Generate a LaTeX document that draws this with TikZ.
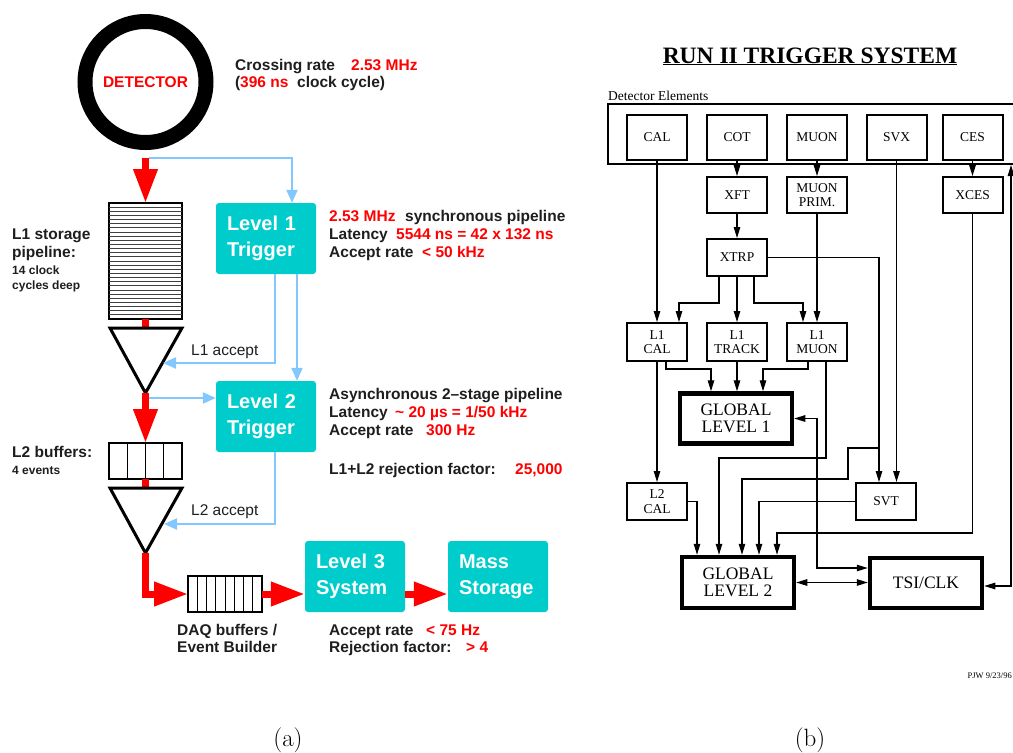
\documentclass[tikz,border=0pt]{standalone}
\usepackage{fontspec}
\setsansfont{Liberation Sans}
\newfontfamily\tms{Liberation Serif}
\usetikzlibrary{arrows.meta,calc}
\definecolor{trig}{RGB}{0,204,204}
\definecolor{sky}{RGB}{130,200,255}
\definecolor{rd}{RGB}{255,0,0}
\definecolor{ink}{RGB}{30,30,30}
\begin{document}
\begin{tikzpicture}[x=1pt,y=-1pt,
  lab/.style={font=\sffamily\bfseries\fontsize{15.5}{18}\selectfont, anchor=base west, inner sep=0, text=ink},
  redlab/.style={lab, text=rd},
  smalllab/.style={font=\sffamily\bfseries\fontsize{12}{14}\selectfont, anchor=base west, inner sep=0, text=ink},
  acclab/.style={font=\sffamily\fontsize{15.5}{18}\selectfont, anchor=base west, inner sep=0, text=ink},
  trigbox/.style={fill=trig, rounded corners=3pt, minimum width=100pt, minimum height=71pt, inner sep=0pt, text=white, font=\sffamily\bfseries\fontsize{20}{26}\selectfont, align=left, text width=78pt},
  bufbox/.style={draw=black, fill=white, line width=2.5pt, outer sep=0pt, inner sep=0pt},
  redarr/.style={draw=rd, line width=7pt, -{Triangle[width=23pt,length=34pt]}},
  redlink/.style={draw=rd, line width=7pt},
  bl/.style={draw=sky, line width=2.2pt, -{Triangle[width=11pt,length=13pt]}},
  funnel/.style={draw=black, fill=white, line width=3pt, line join=miter},
  rbox/.style={draw=black, line width=2pt, minimum width=60pt, inner sep=0pt, font=\tms\fontsize{13.5}{14.5}\selectfont, align=center},
  gbox/.style={draw=black, line width=4.5pt, minimum width=112pt, minimum height=50pt, inner sep=0pt, font=\tms\fontsize{17.5}{17.5}\selectfont, align=center},
  conn/.style={draw=black, line width=1.2pt},
  >={Triangle[width=6.5pt,length=11pt]}
]
\useasboundingbox (0,0) rectangle (1013,753);
\fill[white] (0,0) rectangle (1013,753);

% ================= (a) =================
\node[circle, draw=black, line width=15pt, minimum size=121pt, inner sep=0pt, text=rd,
      font=\sffamily\bfseries\fontsize{15.5}{18}\selectfont] (det) at (145.5,82) {DETECTOR};
\node[lab] (cr1) at (235,70) {Crossing rate};
\node[redlab] (cr2) at (351,70) {2.53 MHz};
\node[lab] (cr3) at (235,87) {(};
\node[redlab] (cr4) at (240,87) {396 ns};
\node[lab] (cr5) at (297,87) {clock cycle)};

% pipeline
\node[bufbox, minimum width=73pt, minimum height=116pt] (pipe) at (145.5,261) {};
\foreach \i in {1,...,27} {
  \draw[line width=0.9pt, black!75] ($(pipe.north west)!\i/28!(pipe.south west)$) -- ($(pipe.north east)!\i/28!(pipe.south east)$);
}
\draw[redarr] ([yshift=-7.5pt]det.south) -- (pipe.north);

% L1 trigger box
\node[trigbox] (l1) at (266,238.5) {Level 1\\Trigger};
\coordinate (s1) at (149,158);
\draw[bl] (s1) -| ([xshift=26pt]l1.north);

% funnel 1
\coordinate (t1top) at (145.5,328);
\draw[redlink] (pipe.south) -- (t1top);
\draw[funnel] (110,328) -- (182,328) -- (145.5,393) coordinate (t1a) -- cycle;

% L2 buffers
\node[bufbox, minimum width=73pt, minimum height=36pt] (l2b) at (145.5,461) {};
\foreach \i in {1,2,3} {
  \draw[line width=1pt] ($(l2b.north west)!\i/4!(l2b.north east)$) -- ($(l2b.south west)!\i/4!(l2b.south east)$);
}
\draw[redarr] (t1a) -- (l2b.north);

% L2 trigger box
\node[trigbox] (l2) at (266,416.5) {Level 2\\Trigger};
\coordinate (a1) at (163,363);
\draw[bl] ([xshift=9pt]l1.south) |- (a1);
\draw[bl] ([xshift=31pt]l1.south) -- ([xshift=31pt]l2.north);
\coordinate (s2) at (149,398);
\draw[bl] (s2) -- (s2 -| l2.west);

% funnel 2
\coordinate (t2top) at (145.5,488);
\draw[redlink] (l2b.south) -- (t2top);
\draw[funnel] (110,488) -- (182,488) -- (145.5,553) coordinate (t2a) -- cycle;
\coordinate (a2) at (164,524);
\draw[bl] ([xshift=9pt]l2.south) |- (a2);

% DAQ buffers
\node[bufbox, minimum width=74pt, minimum height=36pt] (daq) at (225,594) {};
\foreach \i in {1,...,7} {
  \draw[line width=1pt] ($(daq.north west)!\i/8!(daq.north east)$) -- ($(daq.south west)!\i/8!(daq.south east)$);
}
\draw[redarr] (t2a) |- (daq.west);

% Level 3 and mass storage
\node[trigbox] (l3) at (355,576.5) {Level 3\\System};
\node[trigbox] (ms) at (498,576.5) {Mass\\Storage};
\draw[redarr] (daq.east) -- (daq.east -| l3.west);
\draw[redarr] (l3.east |- daq.east) -- (daq.east -| ms.west);

% side texts
\node[lab] (p1) at (12,239) {L1 storage};
\node[lab] (p2) at (12,257) {pipeline:};
\node[smalllab] (p3) at (12,274) {14 clock};
\node[smalllab] (p4) at (12,289) {cycles deep};
\node[lab] (b1) at (12,457) {L2 buffers:};
\node[smalllab] (b2) at (12,474) {4 events};
\node[acclab] (acc1) at (191,355) {L1 accept};
\node[acclab] (acc2) at (191,515) {L2 accept};

\node[redlab] (u1) at (329,221) {2.53 MHz};
\node[lab] (u2) at (405,221) {synchronous pipeline};
\node[lab] (u3) at (329,239) {Latency};
\node[redlab] (u4) at (396,239) {5544 ns = 42 x 132 ns};
\node[lab] (u5) at (329,257) {Accept rate};
\node[redlab] (u6) at (422,257) {< 50 kHz};

\node[lab] (v1) at (329,399) {Asynchronous 2--stage pipeline};
\node[lab] (v2) at (329,417) {Latency};
\node[redlab] (v3) at (395,417) {\textasciitilde{} 20 µs = 1/50 kHz};
\node[lab] (v4) at (329,435) {Accept rate};
\node[redlab] (v5) at (426,435) {300 Hz};
\node[lab] (v6) at (329,474) {L1+L2 rejection factor:};
\node[redlab] (v7) at (515,474) {25,000};

\node[lab] (d1) at (177,635) {DAQ buffers /};
\node[lab] (d2) at (177,652) {Event Builder};
\node[lab] (w1) at (329,635) {Accept rate};
\node[redlab] (w2) at (426,635) {< 75 Hz};
\node[lab] (w3) at (329,652) {Rejection factor:};
\node[redlab] (w4) at (466,652) {> 4};

% ================= (b) =================
\node[font=\tms\bfseries\fontsize{23.5}{28}\selectfont, anchor=base, inner sep=0] (title) at (810,63) {\underline{RUN II TRIGGER SYSTEM}};
\node[font=\tms\fontsize{13.5}{16}\selectfont, anchor=base west, inner sep=0] (detlab) at (608,100) {Detector Elements};
\node[draw=black, line width=1.3pt, minimum width=410pt, minimum height=60pt, inner sep=0pt] (detel) at (813,134) {};

\node[rbox, minimum height=45pt] (cal) at (657,137.5) {CAL};
\node[rbox, minimum height=45pt] (cot) at (737,137.5) {COT};
\node[rbox, minimum height=45pt] (muon) at (817,137.5) {MUON};
\node[rbox, minimum height=45pt] (svx) at (896.5,137.5) {SVX};
\node[rbox, minimum height=45pt] (ces) at (972.5,137.5) {CES};

\node[rbox, minimum height=36pt] (xft) at (737,195) {XFT};
\node[rbox, minimum height=36pt] (mprim) at (817,195) {MUON\\PRIM.};
\node[rbox, minimum height=36pt] (xces) at (972.5,195) {XCES};

\node[rbox, minimum height=37pt] (xtrp) at (737,257.5) {XTRP};

\node[rbox, minimum height=38pt] (l1cal) at (657,342) {L1\\CAL};
\node[rbox, minimum height=38pt] (l1trk) at (737,342) {L1\\TRACK};
\node[rbox, minimum height=38pt] (l1mu) at (817,342) {L1\\MUON};

\node[gbox] (gl1) at (736,418.5) {GLOBAL\\LEVEL 1};

\node[rbox, minimum height=37pt] (l2cal) at (657,501.5) {L2\\CAL};
\node[rbox, minimum height=37pt] (svt) at (886,501.5) {SVT};

\node[gbox, minimum height=51pt] (gl2) at (738,582.5) {GLOBAL\\LEVEL 2};
\node[gbox, minimum height=50pt] (tsi) at (926,583) {TSI/CLK};

\node[font=\tms\fontsize{8.5}{10}\selectfont, anchor=base east, inner sep=0] (pjw) at (1012,678) {PJW 9/23/96};

% connectors
\draw[conn,->] (cal.south) -- (l1cal.north);
\draw[conn,->] (cot.south) -- (xft.north);
\draw[conn,->] (muon.south) -- (mprim.north);
\draw[conn,->] (ces.south) -- (xces.north);
\draw[conn,->] (xft.south) -- (xtrp.north);
\draw[conn,->] ([xshift=-18pt]xtrp.south) -- ++(0,26) -| ([xshift=22pt]l1cal.north);
\draw[conn,->] (xtrp.south) -- (l1trk.north);
\draw[conn,->] ([xshift=17pt]xtrp.south) -- ++(0,26) -| ([xshift=-14pt]l1mu.north);
\draw[conn,->] (mprim.south) -- (l1mu.north);
\draw[conn,->] (xtrp.east) -| ([xshift=-7pt]svt.north);
\draw[conn,->] (svx.south) -- (svx.south |- svt.north);
\draw[conn,->] ([xshift=9pt]l1cal.south) -- ++(0,7) -| ([xshift=-25pt]gl1.north);
\draw[conn,->] (l1trk.south) -- (l1trk.south |- gl1.north);
\draw[conn,->] ([xshift=-9pt]l1mu.south) -- ++(0,7) -| ([xshift=27pt]gl1.north);
\draw[conn,->] (l1cal.south) -- (l2cal.north);
\draw[conn,->] ([xshift=9pt]l1mu.south) -- ++(0,96) -| ([xshift=-19pt]gl2.north);
\coordinate (br) at (879,448);
\draw[conn,->] (br) -- ++(-31,0) -- ++(0,31) -| ([xshift=4pt]gl2.north);
\draw[conn,->] (svt.west) -| ([xshift=21pt]gl2.north);
\draw[conn,->] (l2cal.east) -| ([xshift=-41pt]gl2.north);
\draw[conn,->] (xces.south) -- ++(0,319) -| ([xshift=39pt]gl2.north);
\coordinate (k1) at (817,568);
\draw[conn,<->] (gl1.east) -| (k1) -- ([yshift=15pt]tsi.west);
\draw[conn,<->] (gl2.east) -- (gl2.east -| tsi.west);
\coordinate (deb) at (1011,165);
\draw[conn,<->] ([yshift=-3pt]tsi.east) -| (deb);

% captions
\node[font=\fontsize{25}{30}\selectfont, inner sep=0] (capa) at (288,740) {(a)};
\node[font=\fontsize{25}{30}\selectfont, inner sep=0] (capb) at (810,740) {(b)};
\end{tikzpicture}
\end{document}
